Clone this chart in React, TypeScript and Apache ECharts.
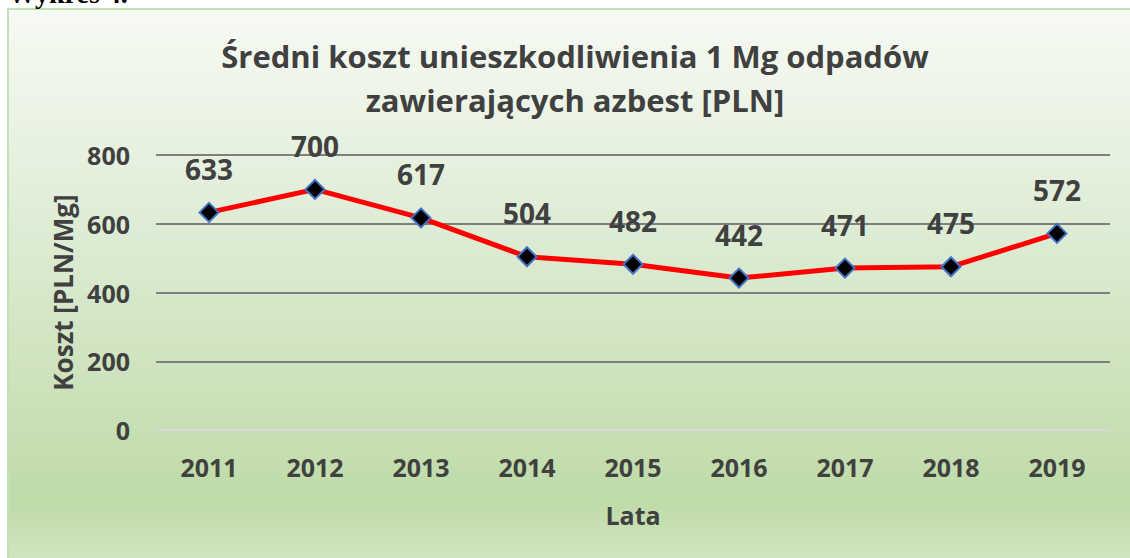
import React, { useEffect, useRef } from "react";
import * as echarts from "echarts";

const categories = ["2011", "2012", "2013", "2014", "2015", "2016", "2017", "2018", "2019"];
const costValues = [633, 700, 617, 504, 482, 442, 471, 475, 572];
const titleText = "Średni koszt unieszkodliwienia 1 Mg odpadów\nzawierających azbest [PLN]";
const yAxisName = "Koszt [PLN/Mg]";
const xAxisName = "Lata";
const captionText = "Wykres 4.";

export default function App() {
  const ref = useRef<HTMLDivElement>(null);
  useEffect(() => {
    if (!ref.current) return;
    const chart = echarts.init(ref.current, null, { renderer: "svg" });
    const font = "'Open Sans', 'Noto Sans', sans-serif";
    chart.setOption({
      animation: false,
      backgroundColor: "#ffffff",
      graphic: [
        {
          type: "rect",
          z: -10,
          silent: true,
          shape: { x: 8, y: 9, width: 1130, height: 560 },
          style: {
            fill: new echarts.graphic.LinearGradient(0, 0, 0, 1, [
              { offset: 0, color: "#f7faf4" },
              { offset: 0.45, color: "#daead0" },
              { offset: 0.88, color: "#bfdba8" },
              { offset: 1, color: "#d3e7c4" },
            ]),
            stroke: "#c5e0b4",
            lineWidth: 2,
          },
        },
        {
          type: "text",
          left: 8,
          top: -21,
          style: {
            text: captionText,
            font: "bold 28px 'Liberation Serif', serif",
            fill: "#000000",
          },
        },
      ],
      title: {
        text: titleText,
        left: 570,
        top: 29,
        textAlign: "center",
        textStyle: {
          fontFamily: font,
          fontWeight: "bold",
          fontSize: 31,
          lineHeight: 44,
          color: "#404040",
        },
      },
      grid: { left: 156, right: 20, top: 155, bottom: 128, containLabel: false },
      xAxis: {
        type: "category",
        data: categories,
        boundaryGap: true,
        name: xAxisName,
        nameLocation: "middle",
        nameGap: 72,
        nameTextStyle: { fontFamily: font, fontWeight: "bold", fontSize: 25, color: "#404040" },
        axisLine: { show: false },
        axisTick: { show: false },
        axisLabel: { fontFamily: font, fontWeight: "bold", fontSize: 25, color: "#404040", margin: 24 },
      },
      yAxis: {
        type: "value",
        min: 0,
        max: 800,
        interval: 200,
        name: yAxisName,
        nameLocation: "middle",
        nameGap: 80,
        nameTextStyle: { fontFamily: font, fontWeight: "bold", fontSize: 26, color: "#404040" },
        axisLine: { show: false },
        axisTick: { show: false },
        axisLabel: { fontFamily: font, fontWeight: "bold", fontSize: 25, color: "#404040", margin: 26 },
        splitLine: {
          lineStyle: {
            color: ["#d9d9d9", "#7f7f7f", "#7f7f7f", "#7f7f7f", "#7f7f7f"],
            width: 2,
          },
        },
      },
      series: [
        {
          type: "line",
          data: costValues,
          lineStyle: { color: "#ff0000", width: 5 },
          itemStyle: { color: "#000000", borderColor: "#4472c4", borderWidth: 2 },
          symbol: "diamond",
          symbolSize: 19,
          label: {
            show: true,
            position: "top",
            distance: 19,
            fontFamily: font,
            fontWeight: "bold",
            fontSize: 28,
            color: "#404040",
          },
        },
      ],
    });
    return () => chart.dispose();
  }, []);
  return (
    <div
      ref={ref}
      style={{ position: "fixed", left: 0, top: 0, width: 1130, height: 558 }}
    />
  );
}
